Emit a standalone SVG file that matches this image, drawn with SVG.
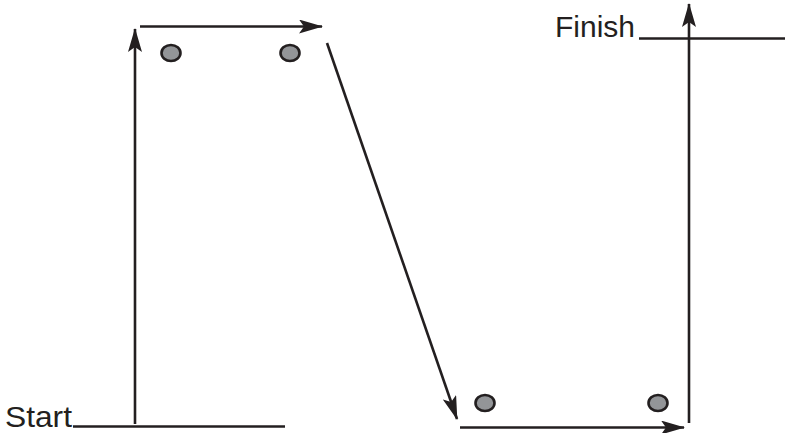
<svg xmlns="http://www.w3.org/2000/svg" width="785" height="433" viewBox="0 0 785 433">
<style>
.ln{stroke:#231f20;stroke-width:2.6;fill:none}
.dot{fill:#939598;stroke:#231f20;stroke-width:2.6}
.lbl{font-family:"Liberation Sans",Arial,sans-serif;font-size:30px;fill:#231f20}
</style>
<defs>
<marker id="ah" viewBox="0 0 24 14" refX="23" refY="7" markerWidth="24" markerHeight="14" markerUnits="userSpaceOnUse" orient="auto">
<path d="M0,0 L24,7 L0,14 L5,7 Z" fill="#231f20"/>
</marker>
</defs>
<rect width="785" height="433" fill="#ffffff"/>
<g id="start">
<text class="lbl" x="5" y="427" textLength="67" lengthAdjust="spacingAndGlyphs">Start</text>
<line class="ln" x1="73" y1="426.5" x2="285" y2="426.5"/>
</g>
<g id="finish">
<text class="lbl" x="555" y="37">Finish</text>
<line class="ln" x1="639" y1="38.5" x2="785" y2="38.5"/>
</g>
<g id="dots">
<ellipse class="dot" cx="171" cy="53" rx="9.5" ry="8"/>
<ellipse class="dot" cx="290" cy="53" rx="9.5" ry="8"/>
<ellipse class="dot" cx="485" cy="403" rx="9.5" ry="8"/>
<ellipse class="dot" cx="658" cy="403" rx="9.5" ry="8"/>
</g>
<g id="connectors">
<line class="ln" x1="135" y1="424" x2="135" y2="29" marker-end="url(#ah)"/>
<line class="ln" x1="140" y1="26.5" x2="322" y2="26.5" marker-end="url(#ah)"/>
<line class="ln" x1="327" y1="43" x2="457" y2="419" marker-end="url(#ah)"/>
<line class="ln" x1="460" y1="427.5" x2="684" y2="427.5" marker-end="url(#ah)"/>
<line class="ln" x1="689" y1="423" x2="689" y2="4" marker-end="url(#ah)"/>
</g>
</svg>
